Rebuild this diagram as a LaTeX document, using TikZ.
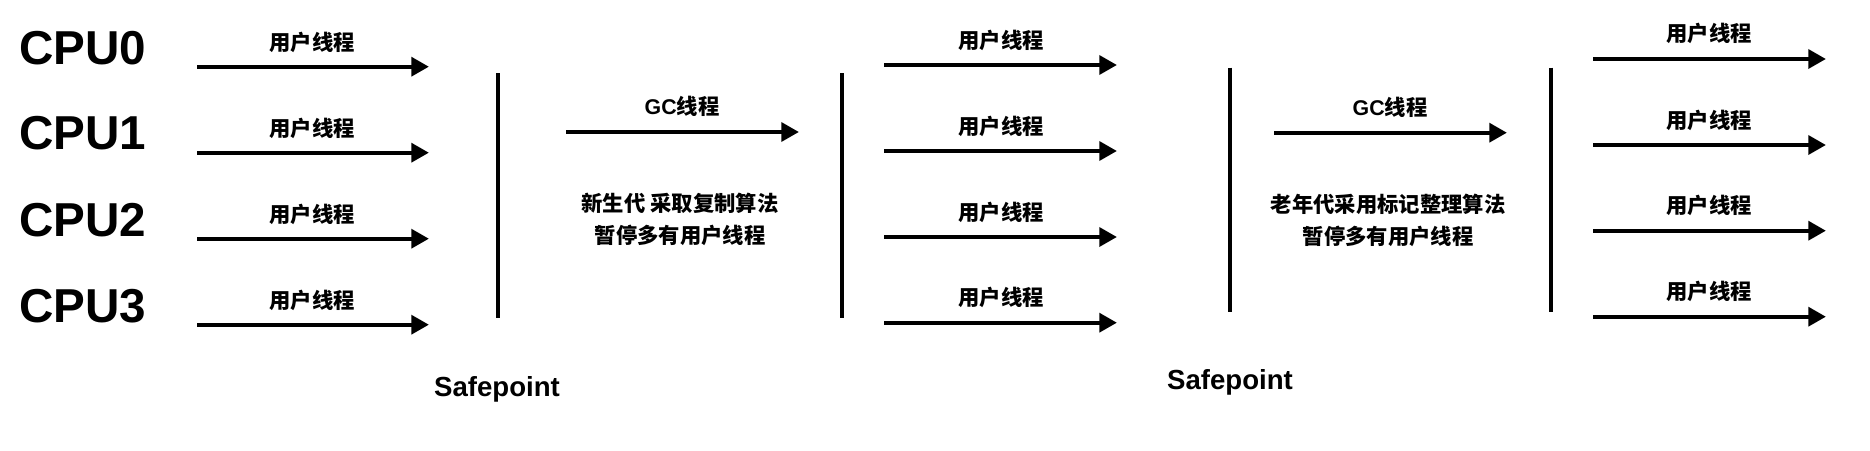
\documentclass[tikz,border=0pt]{standalone}
\usepackage{fontspec}
\setmainfont{Liberation Sans}
\newfontfamily\cjk{Noto Sans CJK SC}
\usetikzlibrary{arrows.meta}
\begin{document}
\begin{tikzpicture}[x=0.75pt,y=-0.75pt,
  flow/.style={line width=3.3pt,-{Triangle[length=13.3pt,width=14pt]}},
  bar/.style={line width=2.8pt},
  cpu/.style={font=\fontsize{35.7}{40}\selectfont\bfseries, anchor=west, inner sep=0pt},
  lbl/.style={font=\fontsize{16}{20}\selectfont\bfseries\cjk, inner sep=0pt},
  gcl/.style={font=\fontsize{16}{20}\selectfont\bfseries, inner sep=0pt},
  note/.style={font=\fontsize{16}{24}\selectfont\bfseries\cjk, align=center, inner sep=0pt},
  sp/.style={font=\fontsize{20.7}{24}\selectfont\bfseries, inner sep=0pt, anchor=base}]
\useasboundingbox (0,0) rectangle (1870,450);
% CPU labels
\node[cpu] (cpu0) at (19,47.7) {CPU0};
\node[cpu] (cpu1) at (19,133) {CPU1};
\node[cpu] (cpu2) at (19,220) {CPU2};
\node[cpu] (cpu3) at (19,306) {CPU3};
% left user threads
\foreach \i/\y/\ly in {0/66.7/42.3,1/152.7/128.3,2/238.7/214.3,3/324.7/300}{
  \coordinate (la\i) at (197,\y);
  \coordinate (lb\i) at (429,\y);
  \draw[flow] (la\i) -- (lb\i);
  \node[lbl] (ll\i) at (312,\ly) {用户线程};
}
% safepoint bar 1
\coordinate (v1t) at (498,73);
\coordinate (v1b) at (498,318);
\draw[bar] (v1t) -- (v1b);
\node[sp] (sp1) at (497,396) {Safepoint};
% GC thread 1
\coordinate (g1a) at (566,132);
\coordinate (g1b) at (799,132);
\draw[flow] (g1a) -- (g1b);
\node[gcl] (g1l) at (682,106.7) {GC{\cjk 线程}};
\node[note] (n1) at (680,219) {新生代 采取复制算法\\暂停多有用户线程};
% bar 2
\coordinate (v2t) at (842,73);
\coordinate (v2b) at (842,318);
\draw[bar] (v2t) -- (v2b);
% middle user threads
\foreach \i/\y/\ly in {0/65/40,1/151/126,2/237/212,3/322.7/297.7}{
  \coordinate (ma\i) at (884,\y);
  \coordinate (mb\i) at (1117,\y);
  \draw[flow] (ma\i) -- (mb\i);
  \node[lbl] (ml\i) at (1001,\ly) {用户线程};
}
% safepoint bar 3
\coordinate (v3t) at (1230,67.7);
\coordinate (v3b) at (1230,312);
\draw[bar] (v3t) -- (v3b);
\node[sp] (sp2) at (1230,389) {Safepoint};
% GC thread 2
\coordinate (g2a) at (1274,132.7);
\coordinate (g2b) at (1507,132.7);
\draw[flow] (g2a) -- (g2b);
\node[gcl] (g2l) at (1390,107) {GC{\cjk 线程}};
\node[note] (n2) at (1388,220) {老年代采用标记整理算法\\暂停多有用户线程};
% bar 4
\coordinate (v4t) at (1551,67.7);
\coordinate (v4b) at (1551,312);
\draw[bar] (v4t) -- (v4b);
% right user threads
\foreach \i/\y/\ly in {0/59/33.3,1/145/120,2/230.7/205.7,3/316.7/291.7}{
  \coordinate (ra\i) at (1593,\y);
  \coordinate (rb\i) at (1826,\y);
  \draw[flow] (ra\i) -- (rb\i);
  \node[lbl] (rl\i) at (1709,\ly) {用户线程};
}
\end{tikzpicture}
\end{document}
